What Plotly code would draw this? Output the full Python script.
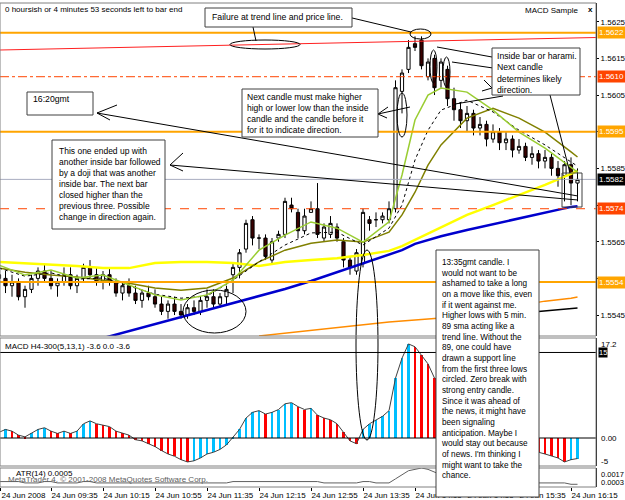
import plotly.graph_objects as go

# ---------------- data ----------------
bar_index = list(range(90))          # 5-minute bars, bar 0 = 08:55
opens = [1.5556,1.5555,1.5553,1.5554,1.5550,1.5552,1.5555,1.5557,1.5555,1.5553,
         1.5554,1.5556,1.5553,1.5555,1.5558,1.5556,1.5554,1.5556,1.5554,1.5551,
         1.5553,1.5551,1.5549,1.5551,1.5550,1.5548,1.5546,1.5548,1.5546,1.5545,
         1.5547,1.5546,1.5549,1.5550,1.5548,1.5550,1.5556,1.5558,1.5563,1.5571,
         1.5566,1.5566,1.5560,1.5566,1.5567,1.5575,1.5573,1.5568,1.5573,1.5574,
         1.5566,1.5567,1.5569,1.5565,1.5560,1.5557,1.5559,1.5571,1.5571,1.5571,
         1.5571,1.5574,1.5606,1.5612,1.5619,1.5620,1.5610,1.5615,1.5609,1.5612,
         1.5604,1.5601,1.5598,1.5600,1.5596,1.5597,1.5593,1.5595,1.5592,1.5593,
         1.5590,1.5591,1.5588,1.5589,1.5587,1.5588,1.5585,1.5583,1.5586,1.5581]
highs = [1.5558,1.5557,1.5556,1.5555,1.5553,1.5556,1.5558,1.5559,1.5557,1.5555,
         1.5558,1.5558,1.5556,1.5559,1.5560,1.5558,1.5557,1.5558,1.5555,1.5554,
         1.5555,1.5553,1.5552,1.5553,1.5552,1.5550,1.5549,1.5550,1.5548,1.5548,
         1.5549,1.5550,1.5552,1.5552,1.5551,1.5553,1.5559,1.5563,1.5571,1.5572,
         1.5567,1.5567,1.5566,1.5568,1.5577,1.5577,1.5574,1.5574,1.5576,1.5581,
         1.5570,1.5572,1.5570,1.5566,1.5561,1.5563,1.5574,1.5572,1.5573,1.5573,
         1.5576,1.5609,1.5612,1.5620,1.5621,1.5621,1.5615,1.5616,1.5615,1.5613,
         1.5607,1.5603,1.5602,1.5601,1.5599,1.5598,1.5597,1.5596,1.5595,1.5594,
         1.5593,1.5592,1.5591,1.5590,1.5590,1.5589,1.5587,1.5587,1.5588,1.5585]
lows = [1.5553,1.5551,1.5550,1.5549,1.5547,1.5551,1.5553,1.5554,1.5552,1.5550,
        1.5553,1.5552,1.5551,1.5554,1.5555,1.5553,1.5552,1.5553,1.5550,1.5549,
        1.5550,1.5548,1.5547,1.5549,1.5547,1.5545,1.5544,1.5545,1.5544,1.5544,
        1.5545,1.5545,1.5547,1.5547,1.5547,1.5548,1.5551,1.5555,1.5562,1.5564,
        1.5563,1.5560,1.5559,1.5565,1.5566,1.5573,1.5566,1.5567,1.5573,1.5566,
        1.5565,1.5566,1.5565,1.5558,1.5556,1.5556,1.5558,1.5568,1.5569,1.5570,
        1.5570,1.5573,1.5600,1.5611,1.5617,1.5612,1.5609,1.5605,1.5607,1.5602,
        1.5598,1.5596,1.5595,1.5594,1.5594,1.5591,1.5592,1.5590,1.5590,1.5588,
        1.5589,1.5587,1.5586,1.5585,1.5585,1.5583,1.5580,1.5576,1.5575,1.5576]
closes = [1.5555,1.5553,1.5554,1.5550,1.5552,1.5555,1.5557,1.5555,1.5553,1.5554,
          1.5556,1.5553,1.5555,1.5558,1.5556,1.5554,1.5556,1.5554,1.5551,1.5553,
          1.5551,1.5549,1.5551,1.5550,1.5548,1.5546,1.5548,1.5546,1.5545,1.5547,
          1.5546,1.5549,1.5550,1.5548,1.5550,1.5552,1.5558,1.5562,1.5570,1.5566,
          1.5566,1.5561,1.5565,1.5567,1.5576,1.5574,1.5568,1.5572,1.5574,1.5567,
          1.5569,1.5570,1.5566,1.5560,1.5558,1.5562,1.5573,1.5570,1.5571,1.5572,
          1.5574,1.5607,1.5611,1.5618,1.5618,1.5613,1.5614,1.5607,1.5614,1.5604,
          1.5601,1.5598,1.5600,1.5596,1.5597,1.5593,1.5595,1.5592,1.5593,1.5590,
          1.5591,1.5588,1.5589,1.5587,1.5588,1.5585,1.5583,1.5586,1.5581,1.5582]

# moving averages, read at these bars
ma_bars = [0,4,8,12,16,20,24,28,32,36,40,44,48,52,56,60,62,64,66,68,72,76,80,84,88,89]
ma_yellow = [1.55595,1.55592,1.55589,1.55584,1.55578,1.55578,1.55592,1.55595,1.55595,1.55592,
             1.55584,1.55595,1.55600,1.55605,1.55614,1.55625,1.55638,1.55655,1.55671,1.55687,
             1.55723,1.55750,1.55777,1.55805,1.55835,1.55843]
ma_blue = [None,None,None,1.55368,1.55387,1.55406,1.55425,1.55445,1.55464,1.55483,
           1.55502,1.55521,1.55543,1.55567,1.55592,1.55614,1.55627,1.55644,1.55655,1.55665,
           1.55682,1.55698,1.55715,1.55731,1.55745,1.55747]
ma_olive = [1.55578,1.55567,1.55559,1.55554,1.55545,1.55537,1.55524,1.55518,1.55524,1.55551,
            1.55595,1.55627,1.55646,1.55655,1.55649,1.55676,1.55723,1.55785,1.55859,1.55914,
            1.55987,1.56014,1.55987,1.55949,1.55895,1.55881]
ma_green = [1.55586,1.55559,1.55573,1.55551,1.55559,1.55532,1.55505,1.55491,1.55505,1.55545,
            1.55627,1.55668,1.55704,1.55687,1.55649,1.55704,1.55832,1.55982,1.56050,1.56069,
            1.56058,1.56009,1.55949,1.55905,1.55854,1.55840]
ma_dotted = [1.55578,1.55556,1.55565,1.55548,1.55551,1.55529,1.55507,1.55496,1.55502,1.55545,
             1.55595,1.55641,1.55674,1.55676,1.55641,1.55687,1.55750,1.55873,1.55954,1.56009,
             1.56036,1.56004,1.55954,1.55914,1.55867,1.55856]
ma_orange = [None,None,None,None,None,None,None,None,None,None,
             1.55393,1.55401,1.55409,1.55417,1.55423,1.55431,1.55434,1.55436,1.55439,1.55442,
             1.55453,1.55464,1.55477,1.55488,1.55496,1.55499]
ma_black = [None,None,None,None,None,None,None,None,None,None,
            None,None,None,None,None,None,None,None,None,None,
            1.55393,1.55431,1.55455,1.55461,1.55469,1.55469]

macd = [1.0,1.5,1.2,0.5,0.2,0.8,1.5,1.8,1.2,0.8,
        1.2,0.8,1.2,2.5,3.0,2.5,2.2,2.0,1.2,0.8,
        0.5,-0.3,-0.5,-1.0,-1.5,-2.2,-2.8,-3.2,-3.8,-4.2,
        -4.0,-3.5,-2.8,-2.5,-2.0,-1.2,0.2,1.5,3.5,4.5,
        4.8,4.2,4.5,5.0,6.0,6.2,5.5,5.0,5.2,4.0,
        3.5,3.2,2.5,1.0,-0.5,-1.0,1.5,2.5,3.2,3.8,
        4.8,10.5,14.0,16.5,16.0,14.5,13.0,10.5,9.5,7.5,
        6.0,4.5,3.5,2.5,2.0,1.0,0.5,-0.2,-0.5,-1.0,
        -1.2,-1.8,-2.0,-2.5,-2.8,-3.2,-3.5,-4.2,-3.8,-3.6]

atr = [0.0007,0.0007,0.0007,0.0007,0.0006,0.0006,0.0006,0.0007,0.0007,0.0006,
       0.0006,0.0006,0.0006,0.0007,0.0007,0.0006,0.0006,0.0006,0.0006,0.0006,
       0.0006,0.0006,0.0006,0.0006,0.0006,0.0006,0.0006,0.0006,0.0006,0.0006,
       0.0006,0.0006,0.0006,0.0006,0.0006,0.0006,0.0007,0.0007,0.0007,0.0007,
       0.0007,0.0007,0.0007,0.0007,0.0007,0.0007,0.0007,0.0007,0.0007,0.0007,
       0.0006,0.0006,0.0006,0.0006,0.0006,0.0006,0.0007,0.0007,0.0006,0.0006,
       0.0006,0.0009,0.0012,0.0015,0.0016,0.0017,0.0016,0.0014,0.0012,0.0010,
       0.0009,0.0008,0.0008,0.0007,0.0007,0.0007,0.0006,0.0006,0.0007,0.0007,
       0.0006,0.0006,0.0006,0.0006,0.0006,0.0006,0.0006,0.0006,0.0005,0.0005]

date_ticks = [0.3, 8, 16, 24, 32, 40, 48, 56, 64, 72, 80, 88]
date_labels = ["24 Jun 2008", "24 Jun 09:35", "24 Jun 10:15", "24 Jun 10:55",
               "24 Jun 11:35", "24 Jun 12:15", "24 Jun 12:55", "24 Jun 13:35",
               "24 Jun 14:15", "24 Jun 14:55", "24 Jun 15:35", "24 Jun 16:15"]
price_ticks = [1.5545, 1.5555, 1.5565, 1.5575, 1.5585, 1.5595, 1.5605, 1.5615, 1.5625]
price_tick_text = ["1.5545", "", "1.5565", "", "1.5585", "", "1.5605", "1.5615", "1.5625"]

level_prices = [1.5622, 1.5610, 1.5595, 1.5582, 1.5574, 1.5554]
level_labels = ["1.5622", "1.5610", "1.5595", "1.5582", "1.5574", "1.5554"]
level_colors = ["#FFA500", "#FF4500", "#FFA500", "#000000", "#FF4500", "#FFA500"]
level_line_colors = ["#FFA500", "#FF4500", "#FFA500", "#A8ACC0", "#FF4500", "#FFA500"]
level_dash = ["solid", "dashdot", "solid", "solid", "dash", "solid"]
level_width = [2, 1, 2, 1, 1, 2]

# ---------------- geometry ----------------
W, H = 625, 500
PL, PR, PT, PB = 0, 596, 3, 487
def px(x): return (x - PL) / (PR - PL)
def py(y): return (PB - y) / (PB - PT)

FONT = "Liberation Sans, Arial, sans-serif"
x_range = [1 / 6.5, 597 / 6.5]
main_range = [1.553929, 1.563010]
macd_range = [-4.91, 17.54]
atr_range = [0.0003, 0.0017]

fig = go.Figure()

fig.add_trace(go.Candlestick(
    x=bar_index, open=opens, high=highs, low=lows, close=closes,
    increasing=dict(fillcolor="#FFFFFF", line=dict(color="#000000", width=1)),
    decreasing=dict(fillcolor="#3A0000", line=dict(color="#000000", width=1)),
    whiskerwidth=0, xaxis="x", yaxis="y", showlegend=False, hoverinfo="skip"))

def ma(vals, color, width, dash="solid"):
    fig.add_trace(go.Scatter(x=ma_bars, y=vals, mode="lines", xaxis="x", yaxis="y",
                             line=dict(color=color, width=width, dash=dash),
                             connectgaps=False, showlegend=False, hoverinfo="skip"))

ma(ma_orange, "#FF8C00", 1.5)
ma(ma_black, "#000000", 1.5)
ma(ma_blue, "#0000CD", 2.5)
ma(ma_yellow, "#FFFF00", 2.5)
ma(ma_olive, "#808000", 1.5)
ma(ma_dotted, "#000000", 1, "dot")
ma(ma_green, "#9ACD32", 1.5)

# MACD histogram
hist_colors = ["#00BFFF" if (i == 0 or macd[i] >= macd[i - 1]) else "#FF0000"
               for i in range(len(macd))]
fig.add_trace(go.Bar(x=bar_index, y=macd, marker=dict(color=hist_colors, line=dict(width=0)),
                     width=0.4, xaxis="x2", yaxis="y2", showlegend=False, hoverinfo="skip"))
fig.add_trace(go.Scatter(x=bar_index, y=macd, mode="lines", line=dict(color="#404040", width=1),
                         xaxis="x2", yaxis="y2", showlegend=False, hoverinfo="skip"))
# ATR
fig.add_trace(go.Scatter(x=bar_index, y=atr, mode="lines", line=dict(color="#606060", width=1),
                         xaxis="x3", yaxis="y3", showlegend=False, hoverinfo="skip"))

shapes = []
for p, c, d, w in zip(level_prices, level_line_colors, level_dash, level_width):
    shapes.append(dict(type="line", xref="paper", yref="y", x0=0, x1=1, y0=p, y1=p,
                       line=dict(color=c, width=w, dash=d), layer="above"))
shapes.append(dict(type="line", xref="paper", yref="y2", x0=0, x1=1, y0=0, y1=0,
                   line=dict(color="#000000", width=1)))
shapes.append(dict(type="line", xref="paper", yref="y2", x0=0, x1=1, y0=15, y1=15,
                   line=dict(color="#000000", width=1)))

def L(x0, y0, x1, y1, color="#000000", width=1, dash="solid"):
    shapes.append(dict(type="line", xref="paper", yref="paper", x0=px(x0), y0=py(y0),
                       x1=px(x1), y1=py(y1), line=dict(color=color, width=width, dash=dash)))

def E(x0, y0, x1, y1, color="#000000"):
    shapes.append(dict(type="circle", xref="paper", yref="paper", x0=px(x0), y0=py(y0),
                       x1=px(x1), y1=py(y1), line=dict(color=color, width=1)))

def R(x0, y0, x1, y1, fill="#FFFFFF", color="#404040"):
    shapes.append(dict(type="rect", xref="paper", yref="paper", x0=px(x0), y0=py(y0),
                       x1=px(x1), y1=py(y1), fillcolor=fill, line=dict(color=color, width=1)))

L(0, 50, 596, 37.5, "#FF2020", 1)
L(97, 113, 578, 196)
L(97, 113, 117, 105); L(97, 113, 110, 120)
L(170, 165, 578, 200)
L(170, 165, 183, 153); L(170, 165, 183, 171)
L(378, 114, 410, 107)
L(378, 114, 388, 107); L(378, 114, 387, 118)
L(348, 17, 411, 32)
L(253, 27, 256, 41)
L(437, 47, 492, 57)
L(452, 62, 493, 68)
L(455, 104, 503, 96)
L(492, 88, 484, 80); L(492, 88, 482, 91)
L(550, 95, 570, 173)
E(410, 29, 431, 39)
E(230, 40, 300, 49)
E(397, 93, 407, 137)
E(430, 50, 437, 83)
E(443, 57, 450, 87)
E(356, 250, 378, 440)
E(183, 290, 246, 333)
R(562, 173, 582, 207, fill="rgba(0,0,0,0)", color="#404040")

for (t, b) in [(3, 336), (338, 466), (468, 487)]:
    shapes.append(dict(type="rect", xref="paper", yref="paper", x0=0, x1=1, y0=py(b), y1=py(t),
                       line=dict(color="#808080", width=1), fillcolor="rgba(0,0,0,0)"))

R(205, 8, 352, 27)
R(27, 92, 93, 115)
R(242, 89, 378, 137)
R(492, 48, 580, 95)
R(52, 140, 165, 229)
R(436, 250, 539, 497)

ann = []
def T(x, y, text, size=8.7, color="#000000", xanchor="left", yanchor="top"):
    ann.append(dict(xref="paper", yref="paper", x=px(x), y=py(y), text=text, showarrow=False,
                    xanchor=xanchor, yanchor=yanchor, align="left",
                    font=dict(family=FONT, size=size, color=color)))

T(3, 3, "0 hoursish or 4 minutes 53 seconds left to bar end", size=8)
T(580, 4, "MACD Sample", size=8, xanchor="right")
T(586, 3, "<b>x</b>", size=8)
T(210, 10, "Failure at trend line and price line.")
T(31, 92, "16:20gmt")
T(245, 90, "Next candle must make higher<br>high or lower low than the inside<br>"
           "candle and the candle before it<br>for it to indicate direction.", size=8.5)
T(495, 49, "Inside bar or harami.<br>Next candle<br>determines likely<br>direction.")
T(57, 144, "This one ended up with<br>another inside bar followed<br>by a doji that was another<br>"
           "inside bar. The next bar<br>closed higher than the<br>previous three. Possible<br>"
           "change in direction again.", size=8.5)
T(439, 256, "13:35gmt candle. I<br>would not want to be<br>ashamed to take a long<br>"
            "on a move like this, even<br>if it went against me.<br>Higher lows with 5 min.<br>"
            "89 sma acting like a<br>trend line. Without the<br>89, one could have<br>"
            "drawn a support line<br>from the first three lows<br>circled. Zero break with<br>"
            "strong entry candle.<br>Since it was ahead of<br>the news, it might have<br>"
            "been signaling<br>anticipation. Maybe I<br>would stay out because<br>"
            "of news. I'm thinking I<br>might want to take the<br>chance.", size=8.2)
T(3, 340, "MACD H4-300(5,13,1) -3.6 0.0 -3.6", size=8)
T(14, 467, "ATR(14) 0.0005", size=8)
T(6, 473, "MetaTrader 4, © 2001-2008 MetaQuotes Software Corp.", size=8, color="#606060")

for p, t, c in zip(level_prices, level_labels, level_colors):
    ann.append(dict(xref="paper", yref="y", x=1, y=p, text=t, showarrow=False,
                    xanchor="left", yanchor="middle", xshift=1, bgcolor=c, borderpad=1,
                    font=dict(family=FONT, size=8, color="#FFFFFF")))
T(599, 344, "17.2", size=8, yanchor="middle")
ann.append(dict(xref="paper", yref="y2", x=1, y=15, text="15", showarrow=False, xanchor="left",
                yanchor="middle", xshift=2, bgcolor="#000000", borderpad=0,
                font=dict(family=FONT, size=7.5, color="#FFFFFF")))
T(599, 438, "0.00", size=8, yanchor="middle")
T(599, 461, "-5", size=8, yanchor="middle")
T(599, 474, "0.0017", size=7.5, yanchor="middle")
T(599, 482, "0.0003", size=7.5, yanchor="middle")

axis_common = dict(showgrid=False, zeroline=False, fixedrange=True, automargin=False)
fig.update_layout(
    width=W, height=H, margin=dict(l=PL, r=W - PR, t=PT, b=H - PB, autoexpand=False),
    paper_bgcolor="#FFFFFF", plot_bgcolor="#FFFFFF", showlegend=False, bargap=0,
    xaxis=dict(domain=[0, 1], range=x_range, anchor="y", showticklabels=False,
               rangeslider=dict(visible=False), **axis_common),
    yaxis=dict(domain=[py(336), 1], range=main_range, side="right", anchor="x",
               tickvals=price_ticks, ticktext=price_tick_text, ticks="outside", ticklen=2,
               tickcolor="#000000", showline=True, linecolor="#000000", linewidth=1,
               tickfont=dict(family=FONT, size=8, color="#000000"), **axis_common),
    xaxis2=dict(domain=[0, 1], range=x_range, anchor="y2", showticklabels=False, **axis_common),
    yaxis2=dict(domain=[py(466), py(338)], range=macd_range, side="right", anchor="x2",
                showticklabels=False, showline=True, linecolor="#000000", **axis_common),
    xaxis3=dict(domain=[0, 1], range=x_range, anchor="y3", tickvals=date_ticks,
                ticktext=date_labels, ticks="outside", ticklen=3, tickcolor="#000000",
                ticklabelposition="outside right", tickangle=0, ticklabeloverflow="allow",
                tickfont=dict(family=FONT, size=8, color="#000000"), **axis_common),
    yaxis3=dict(domain=[0, py(468)], range=atr_range, side="right", anchor="x3",
                showticklabels=False, showline=True, linecolor="#000000", **axis_common),
    shapes=shapes, annotations=ann,
)

fig.write_html("out.html")
